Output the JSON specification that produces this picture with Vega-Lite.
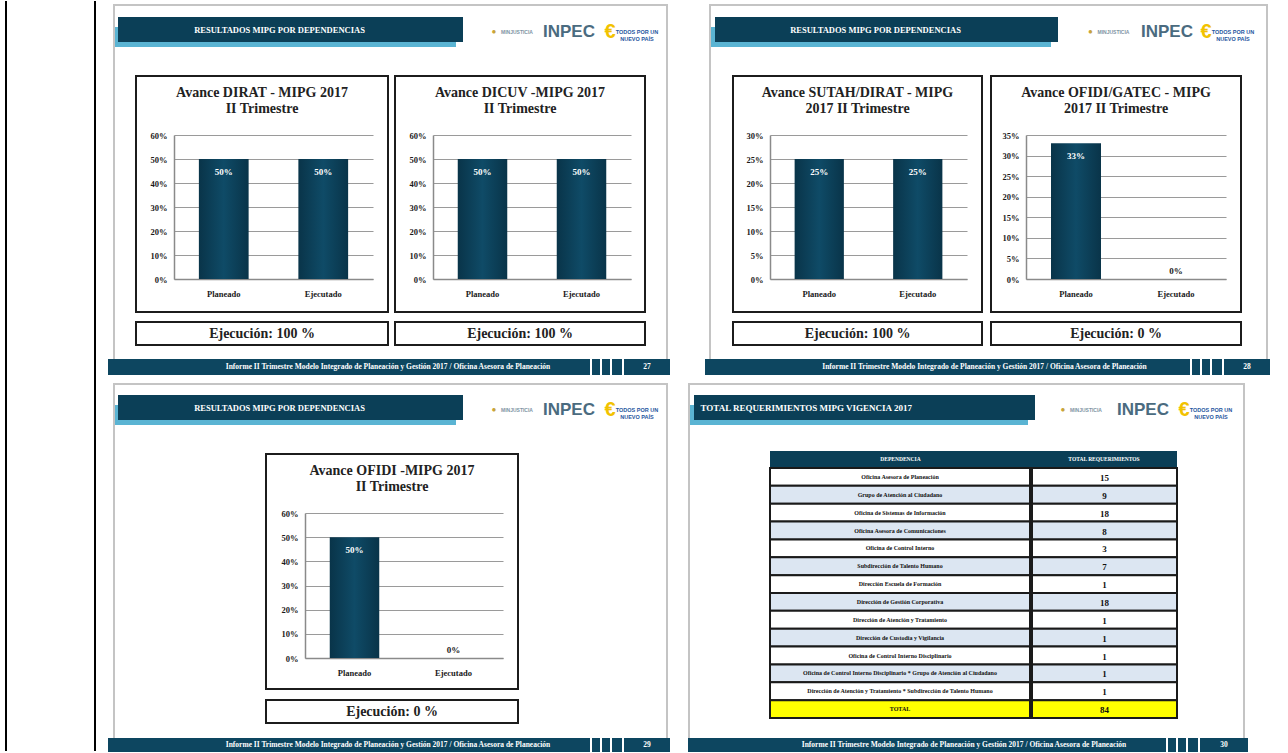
{
  "$schema": "https://vega.github.io/schema/vega-lite/v6.json",
  "padding": {"left": 5, "top": 0, "right": 0, "bottom": 0},
  "background": "white",
  "config": {
    "font": "Liberation Serif",
    "view": {"stroke": null},
    "concat": {"spacing": 0},
    "text": {"font": "Liberation Serif", "fontSize": 0},
    "axis": {"labelFont": "Liberation Serif", "labelFontWeight": "bold", "labelFontSize": 8.5, "labelColor": "#1a1a1a", "ticks": false, "domainColor": "#8a8a8a", "domainWidth": 1.5, "gridColor": "#9a9a9a", "gridWidth": 1.2},
    "title": {"font": "Liberation Serif", "fontWeight": "bold", "fontSize": 14, "color": "#222222", "lineHeight": 16, "anchor": "middle", "frame": "group", "baseline": "bottom", "offset": -40}
  },
  "datasets": {
    "avance": [
      {"grafico": "DIRAT", "tipo": "Planeado", "valor": 0.5},
      {"grafico": "DIRAT", "tipo": "Ejecutado", "valor": 0.5},
      {"grafico": "DICUV", "tipo": "Planeado", "valor": 0.5},
      {"grafico": "DICUV", "tipo": "Ejecutado", "valor": 0.5},
      {"grafico": "SUTAH/DIRAT", "tipo": "Planeado", "valor": 0.25},
      {"grafico": "SUTAH/DIRAT", "tipo": "Ejecutado", "valor": 0.25},
      {"grafico": "OFIDI/GATEC", "tipo": "Planeado", "valor": 0.33},
      {"grafico": "OFIDI/GATEC", "tipo": "Ejecutado", "valor": 0},
      {"grafico": "OFIDI", "tipo": "Planeado", "valor": 0.5},
      {"grafico": "OFIDI", "tipo": "Ejecutado", "valor": 0}
    ],
    "requerimientos": [
      {"orden": 1, "dependencia": "Oficina Asesora de Planeación", "total": 15},
      {"orden": 2, "dependencia": "Grupo de Atención al Ciudadano", "total": 9},
      {"orden": 3, "dependencia": "Oficina de Sistemas de Información", "total": 18},
      {"orden": 4, "dependencia": "Oficina Asesora de Comunicaciones", "total": 8},
      {"orden": 5, "dependencia": "Oficina de Control Interno", "total": 3},
      {"orden": 6, "dependencia": "Subdirección de Talento Humano", "total": 7},
      {"orden": 7, "dependencia": "Dirección Escuela de Formación", "total": 1},
      {"orden": 8, "dependencia": "Dirección de Gestión Corporativa", "total": 18},
      {"orden": 9, "dependencia": "Dirección de Atención y Tratamiento", "total": 1},
      {"orden": 10, "dependencia": "Dirección de Custodia y Vigilancia", "total": 1},
      {"orden": 11, "dependencia": "Oficina de Control Interno Disciplinario", "total": 1},
      {"orden": 12, "dependencia": "Oficina de Control Interno Disciplinario * Grupo de Atención al Ciudadano", "total": 1},
      {"orden": 13, "dependencia": "Dirección de Atención y Tratamiento * Subdirección de Talento Humano", "total": 1},
      {"orden": 14, "dependencia": "TOTAL", "total": 84}
    ]
  },
  "spacing": 12,
  "hconcat": [
    {
      "width": 89, "height": 750,
      "data": {"values": [{"borde": "izquierdo"}, {"borde": "derecho"}]},
      "mark": {"type": "rule", "strokeWidth": 2, "color": "#000000"},
      "encoding": {"x": {"field": "borde", "type": "nominal", "sort": ["izquierdo", "derecho"], "scale": {"type": "point", "padding": 0}, "axis": null}}
    },
    {
      "spacing": 5,
      "vconcat": [
        {
          "spacing": 35,
          "hconcat": [
            {
              "vconcat": [
                {"width": 1, "height": 3, "data": {"values": [{}]}, "mark": "text", "encoding": {"text": {"value": ""}}},
                {"hconcat": [
                  {"width": 5, "height": 2, "data": {"values": [{}]}, "mark": "text", "encoding": {"text": {"value": ""}}},
                  {"width": 555, "height": 2, "data": {"values": [{}]}, "view": {"fill": "#c4c4c4"}, "mark": "text", "encoding": {"text": {"value": ""}}}
                ]},
                {"hconcat": [
                  {"width": 5, "height": 353, "data": {"values": [{}]}, "mark": "text", "encoding": {"text": {"value": ""}}},
                  {"width": 2, "height": 353, "data": {"values": [{}]}, "view": {"fill": "#c4c4c4"}, "mark": "text", "encoding": {"text": {"value": ""}}},
                  {"vconcat": [
                    {"width": 551, "height": 11, "data": {"values": [{}]}, "mark": "text", "encoding": {"text": {"value": ""}}},
                    {"hconcat": [
                      {"vconcat": [
                        {"width": 3, "height": 10, "data": {"values": [{}]}, "mark": "text", "encoding": {"text": {"value": ""}}},
                        {"width": 3, "height": 20, "data": {"values": [{}]}, "view": {"fill": "#5ab4d3"}, "mark": "text", "encoding": {"text": {"value": ""}}}
                      ]},
                      {"vconcat": [
                        {"width": 345, "height": 25, "data": {"values": [{}]}, "view": {"fill": "#0b3f57"}, "mark": {"type": "text", "color": "#ffffff", "fontSize": 8.5, "fontWeight": "bold", "dx": -11}, "encoding": {"text": {"value": "RESULTADOS MIPG POR DEPENDENCIAS"}}},
                        {"width": 338, "height": 5, "data": {"values": [{}]}, "view": {"fill": "#5ab4d3"}, "mark": "text", "encoding": {"text": {"value": ""}}}
                      ]},
                      {"width": 25, "height": 30, "data": {"values": [{}]}, "mark": "text", "encoding": {"text": {"value": ""}}},
                      {"width": 50, "height": 30, "data": {"values": [{}]}, "layer": [
                        {"mark": {"type": "text", "fontSize": 8, "color": "#c8a43a", "dx": -19}, "encoding": {"text": {"value": "●"}}},
                        {"mark": {"type": "text", "font": "Liberation Sans", "fontSize": 5, "fontWeight": "bold", "color": "#8094a3", "dx": 4}, "encoding": {"text": {"value": "MINJUSTICIA"}}}
                      ]},
                      {"width": 62, "height": 30, "data": {"values": [{}]}, "mark": {"type": "text", "font": "Liberation Sans", "fontSize": 17, "fontWeight": "bold", "color": "#4a6b80"}, "encoding": {"text": {"value": "INPEC"}}},
                      {"width": 60, "height": 30, "data": {"values": [{}]}, "layer": [
                        {"mark": {"type": "text", "font": "Liberation Sans", "fontSize": 20, "fontWeight": "bold", "color": "#f2c200", "dx": -20}, "encoding": {"text": {"value": "€"}}},
                        {"mark": {"type": "text", "font": "Liberation Sans", "fontSize": 5.5, "fontWeight": "bold", "color": "#1f55a0", "dx": 7, "lineHeight": 7}, "encoding": {"text": {"value": ["TODOS POR UN", "NUEVO PAÍS"]}}}
                      ]}
                    ]},
                    {"width": 1, "height": 28, "data": {"values": [{}]}, "mark": "text", "encoding": {"text": {"value": ""}}},
                    {"hconcat": [
                      {"width": 20, "height": 236, "data": {"values": [{}]}, "mark": "text", "encoding": {"text": {"value": ""}}},
                      {
                        "width": 252, "height": 236,
                        "view": {"stroke": "#1c1c1c", "strokeWidth": 2},
                        "title": {"text": ["Avance DIRAT - MIPG 2017", "II Trimestre"]},
                        "data": {"name": "avance"},
                        "transform": [{"filter": "datum.grafico === 'DIRAT'"}],
                        "encoding": {
                          "x": {"field": "tipo", "type": "nominal", "sort": ["Planeado", "Ejecutado"], "scale": {"range": [38, 237], "paddingInner": 0.5, "paddingOuter": 0.25}, "axis": {"title": null, "offset": -33, "labelAngle": 0, "labelPadding": 10, "grid": false}},
                          "y": {"field": "valor", "type": "quantitative", "scale": {"domain": [0, 0.6], "range": [203, 59], "nice": false}, "axis": {"title": null, "offset": -38, "values": [0, 0.1, 0.2, 0.3, 0.4, 0.5, 0.6], "format": ".0%", "labelPadding": 7, "grid": true}}
                        },
                        "layer": [
                          {"mark": {"type": "bar", "color": {"gradient": "linear", "x1": 0, "x2": 1, "y1": 0, "y2": 0, "stops": [{"offset": 0, "color": "#093449"}, {"offset": 0.5, "color": "#0f4b67"}, {"offset": 1, "color": "#093449"}]}}},
                          {"transform": [{"filter": "datum.valor > 0"}], "mark": {"type": "text", "baseline": "top", "dy": 9, "color": "#ffffff", "fontSize": 9, "fontWeight": "bold"}, "encoding": {"text": {"field": "valor", "type": "quantitative", "format": ".0%"}}},
                          {"transform": [{"filter": "datum.valor <= 0"}], "mark": {"type": "text", "baseline": "bottom", "dy": -3, "color": "#1a1a1a", "fontSize": 9, "fontWeight": "bold"}, "encoding": {"text": {"field": "valor", "type": "quantitative", "format": ".0%"}}}
                        ]
                      },
                      {"width": 5, "height": 236, "data": {"values": [{}]}, "mark": "text", "encoding": {"text": {"value": ""}}},
                      {
                        "width": 250, "height": 236,
                        "view": {"stroke": "#1c1c1c", "strokeWidth": 2},
                        "title": {"text": ["Avance DICUV -MIPG 2017", "II Trimestre"]},
                        "data": {"name": "avance"},
                        "transform": [{"filter": "datum.grafico === 'DICUV'"}],
                        "encoding": {
                          "x": {"field": "tipo", "type": "nominal", "sort": ["Planeado", "Ejecutado"], "scale": {"range": [38, 236], "paddingInner": 0.5, "paddingOuter": 0.25}, "axis": {"title": null, "offset": -33, "labelAngle": 0, "labelPadding": 10, "grid": false}},
                          "y": {"field": "valor", "type": "quantitative", "scale": {"domain": [0, 0.6], "range": [203, 59], "nice": false}, "axis": {"title": null, "offset": -38, "values": [0, 0.1, 0.2, 0.3, 0.4, 0.5, 0.6], "format": ".0%", "labelPadding": 7, "grid": true}}
                        },
                        "layer": [
                          {"mark": {"type": "bar", "color": {"gradient": "linear", "x1": 0, "x2": 1, "y1": 0, "y2": 0, "stops": [{"offset": 0, "color": "#093449"}, {"offset": 0.5, "color": "#0f4b67"}, {"offset": 1, "color": "#093449"}]}}},
                          {"transform": [{"filter": "datum.valor > 0"}], "mark": {"type": "text", "baseline": "top", "dy": 9, "color": "#ffffff", "fontSize": 9, "fontWeight": "bold"}, "encoding": {"text": {"field": "valor", "type": "quantitative", "format": ".0%"}}},
                          {"transform": [{"filter": "datum.valor <= 0"}], "mark": {"type": "text", "baseline": "bottom", "dy": -3, "color": "#1a1a1a", "fontSize": 9, "fontWeight": "bold"}, "encoding": {"text": {"field": "valor", "type": "quantitative", "format": ".0%"}}}
                        ]
                      }
                    ]},
                    {"width": 1, "height": 8, "data": {"values": [{}]}, "mark": "text", "encoding": {"text": {"value": ""}}},
                    {"hconcat": [
                      {"width": 20, "height": 23, "data": {"values": [{}]}, "mark": "text", "encoding": {"text": {"value": ""}}},
                      {"width": 252, "height": 23, "data": {"values": [{"texto": "Ejecución: 100 %"}]}, "view": {"stroke": "#1c1c1c", "strokeWidth": 2}, "mark": {"type": "text", "fontSize": 14, "fontWeight": "bold", "color": "#222222"}, "encoding": {"text": {"field": "texto"}}},
                      {"width": 5, "height": 23, "data": {"values": [{}]}, "mark": "text", "encoding": {"text": {"value": ""}}},
                      {"width": 250, "height": 23, "data": {"values": [{"texto": "Ejecución: 100 %"}]}, "view": {"stroke": "#1c1c1c", "strokeWidth": 2}, "mark": {"type": "text", "fontSize": 14, "fontWeight": "bold", "color": "#222222"}, "encoding": {"text": {"field": "texto"}}}
                    ]},
                    {"width": 1, "height": 13, "data": {"values": [{}]}, "mark": "text", "encoding": {"text": {"value": ""}}}
                  ]},
                  {"width": 2, "height": 353, "data": {"values": [{}]}, "view": {"fill": "#c4c4c4"}, "mark": "text", "encoding": {"text": {"value": ""}}}
                ]},
                {"spacing": 2, "hconcat": [
                  {"width": 482, "height": 16, "data": {"values": [{}]}, "view": {"fill": "#0d4660"}, "mark": {"type": "text", "color": "#ffffff", "fontSize": 7.5, "fontWeight": "bold", "dx": 39}, "encoding": {"text": {"value": "Informe II Trimestre Modelo Integrado de Planeación  y Gestión 2017 / Oficina Asesora de Planeación"}}},
                  {"width": 8, "height": 16, "data": {"values": [{}]}, "view": {"fill": "#0d4660"}, "mark": "text", "encoding": {"text": {"value": ""}}},
                  {"width": 8, "height": 16, "data": {"values": [{}]}, "view": {"fill": "#0d4660"}, "mark": "text", "encoding": {"text": {"value": ""}}},
                  {"width": 10, "height": 16, "data": {"values": [{}]}, "view": {"fill": "#0d4660"}, "mark": "text", "encoding": {"text": {"value": ""}}},
                  {"width": 46, "height": 16, "data": {"values": [{}]}, "view": {"fill": "#0d4660"}, "mark": {"type": "text", "color": "#ffffff", "fontSize": 7.5, "fontWeight": "bold"}, "encoding": {"text": {"value": "27"}}}
                ]}
              ]
            },
            {
              "vconcat": [
                {"width": 1, "height": 3, "data": {"values": [{}]}, "mark": "text", "encoding": {"text": {"value": ""}}},
                {"hconcat": [
                  {"width": 4, "height": 2, "data": {"values": [{}]}, "mark": "text", "encoding": {"text": {"value": ""}}},
                  {"width": 559, "height": 2, "data": {"values": [{}]}, "view": {"fill": "#c4c4c4"}, "mark": "text", "encoding": {"text": {"value": ""}}}
                ]},
                {"hconcat": [
                  {"width": 4, "height": 353, "data": {"values": [{}]}, "mark": "text", "encoding": {"text": {"value": ""}}},
                  {"width": 2, "height": 353, "data": {"values": [{}]}, "view": {"fill": "#c4c4c4"}, "mark": "text", "encoding": {"text": {"value": ""}}},
                  {"vconcat": [
                    {"width": 555, "height": 11, "data": {"values": [{}]}, "mark": "text", "encoding": {"text": {"value": ""}}},
                    {"hconcat": [
                      {"vconcat": [
                        {"width": 4, "height": 10, "data": {"values": [{}]}, "mark": "text", "encoding": {"text": {"value": ""}}},
                        {"width": 4, "height": 20, "data": {"values": [{}]}, "view": {"fill": "#5ab4d3"}, "mark": "text", "encoding": {"text": {"value": ""}}}
                      ]},
                      {"vconcat": [
                        {"width": 343, "height": 25, "data": {"values": [{}]}, "view": {"fill": "#0b3f57"}, "mark": {"type": "text", "color": "#ffffff", "fontSize": 8.5, "fontWeight": "bold", "dx": -11}, "encoding": {"text": {"value": "RESULTADOS MIPG POR DEPENDENCIAS"}}},
                        {"width": 336, "height": 5, "data": {"values": [{}]}, "view": {"fill": "#5ab4d3"}, "mark": "text", "encoding": {"text": {"value": ""}}}
                      ]},
                      {"width": 24, "height": 30, "data": {"values": [{}]}, "mark": "text", "encoding": {"text": {"value": ""}}},
                      {"width": 55, "height": 30, "data": {"values": [{}]}, "layer": [
                        {"mark": {"type": "text", "fontSize": 8, "color": "#c8a43a", "dx": -19}, "encoding": {"text": {"value": "●"}}},
                        {"mark": {"type": "text", "font": "Liberation Sans", "fontSize": 5, "fontWeight": "bold", "color": "#8094a3", "dx": 4}, "encoding": {"text": {"value": "MINJUSTICIA"}}}
                      ]},
                      {"width": 60, "height": 30, "data": {"values": [{}]}, "mark": {"type": "text", "font": "Liberation Sans", "fontSize": 17, "fontWeight": "bold", "color": "#4a6b80"}, "encoding": {"text": {"value": "INPEC"}}},
                      {"width": 58, "height": 30, "data": {"values": [{}]}, "layer": [
                        {"mark": {"type": "text", "font": "Liberation Sans", "fontSize": 20, "fontWeight": "bold", "color": "#f2c200", "dx": -20}, "encoding": {"text": {"value": "€"}}},
                        {"mark": {"type": "text", "font": "Liberation Sans", "fontSize": 5.5, "fontWeight": "bold", "color": "#1f55a0", "dx": 7, "lineHeight": 7}, "encoding": {"text": {"value": ["TODOS POR UN", "NUEVO PAÍS"]}}}
                      ]}
                    ]},
                    {"width": 1, "height": 28, "data": {"values": [{}]}, "mark": "text", "encoding": {"text": {"value": ""}}},
                    {"hconcat": [
                      {"width": 21, "height": 236, "data": {"values": [{}]}, "mark": "text", "encoding": {"text": {"value": ""}}},
                      {
                        "width": 249, "height": 236,
                        "view": {"stroke": "#1c1c1c", "strokeWidth": 2},
                        "title": {"text": ["Avance SUTAH/DIRAT - MIPG", "2017 II Trimestre"]},
                        "data": {"name": "avance"},
                        "transform": [{"filter": "datum.grafico === 'SUTAH/DIRAT'"}],
                        "encoding": {
                          "x": {"field": "tipo", "type": "nominal", "sort": ["Planeado", "Ejecutado"], "scale": {"range": [37, 234], "paddingInner": 0.5, "paddingOuter": 0.25}, "axis": {"title": null, "offset": -33, "labelAngle": 0, "labelPadding": 10, "grid": false}},
                          "y": {"field": "valor", "type": "quantitative", "scale": {"domain": [0, 0.3], "range": [203, 59], "nice": false}, "axis": {"title": null, "offset": -37, "values": [0, 0.05, 0.1, 0.15, 0.2, 0.25, 0.3], "format": ".0%", "labelPadding": 7, "grid": true}}
                        },
                        "layer": [
                          {"mark": {"type": "bar", "color": {"gradient": "linear", "x1": 0, "x2": 1, "y1": 0, "y2": 0, "stops": [{"offset": 0, "color": "#093449"}, {"offset": 0.5, "color": "#0f4b67"}, {"offset": 1, "color": "#093449"}]}}},
                          {"transform": [{"filter": "datum.valor > 0"}], "mark": {"type": "text", "baseline": "top", "dy": 9, "color": "#ffffff", "fontSize": 9, "fontWeight": "bold"}, "encoding": {"text": {"field": "valor", "type": "quantitative", "format": ".0%"}}},
                          {"transform": [{"filter": "datum.valor <= 0"}], "mark": {"type": "text", "baseline": "bottom", "dy": -3, "color": "#1a1a1a", "fontSize": 9, "fontWeight": "bold"}, "encoding": {"text": {"field": "valor", "type": "quantitative", "format": ".0%"}}}
                        ]
                      },
                      {"width": 7, "height": 236, "data": {"values": [{}]}, "mark": "text", "encoding": {"text": {"value": ""}}},
                      {
                        "width": 250, "height": 236,
                        "view": {"stroke": "#1c1c1c", "strokeWidth": 2},
                        "title": {"text": ["Avance OFIDI/GATEC - MIPG", "2017 II Trimestre"]},
                        "data": {"name": "avance"},
                        "transform": [{"filter": "datum.grafico === 'OFIDI/GATEC'"}],
                        "encoding": {
                          "x": {"field": "tipo", "type": "nominal", "sort": ["Planeado", "Ejecutado"], "scale": {"range": [35, 235], "paddingInner": 0.5, "paddingOuter": 0.25}, "axis": {"title": null, "offset": -33, "labelAngle": 0, "labelPadding": 10, "grid": false}},
                          "y": {"field": "valor", "type": "quantitative", "scale": {"domain": [0, 0.35], "range": [203, 59], "nice": false}, "axis": {"title": null, "offset": -35, "values": [0, 0.05, 0.1, 0.15, 0.2, 0.25, 0.3, 0.35], "format": ".0%", "labelPadding": 7, "grid": true}}
                        },
                        "layer": [
                          {"mark": {"type": "bar", "color": {"gradient": "linear", "x1": 0, "x2": 1, "y1": 0, "y2": 0, "stops": [{"offset": 0, "color": "#093449"}, {"offset": 0.5, "color": "#0f4b67"}, {"offset": 1, "color": "#093449"}]}}},
                          {"transform": [{"filter": "datum.valor > 0"}], "mark": {"type": "text", "baseline": "top", "dy": 9, "color": "#ffffff", "fontSize": 9, "fontWeight": "bold"}, "encoding": {"text": {"field": "valor", "type": "quantitative", "format": ".0%"}}},
                          {"transform": [{"filter": "datum.valor <= 0"}], "mark": {"type": "text", "baseline": "bottom", "dy": -3, "color": "#1a1a1a", "fontSize": 9, "fontWeight": "bold"}, "encoding": {"text": {"field": "valor", "type": "quantitative", "format": ".0%"}}}
                        ]
                      }
                    ]},
                    {"width": 1, "height": 8, "data": {"values": [{}]}, "mark": "text", "encoding": {"text": {"value": ""}}},
                    {"hconcat": [
                      {"width": 21, "height": 23, "data": {"values": [{}]}, "mark": "text", "encoding": {"text": {"value": ""}}},
                      {"width": 249, "height": 23, "data": {"values": [{"texto": "Ejecución: 100 %"}]}, "view": {"stroke": "#1c1c1c", "strokeWidth": 2}, "mark": {"type": "text", "fontSize": 14, "fontWeight": "bold", "color": "#222222"}, "encoding": {"text": {"field": "texto"}}},
                      {"width": 7, "height": 23, "data": {"values": [{}]}, "mark": "text", "encoding": {"text": {"value": ""}}},
                      {"width": 250, "height": 23, "data": {"values": [{"texto": "Ejecución: 0 %"}]}, "view": {"stroke": "#1c1c1c", "strokeWidth": 2}, "mark": {"type": "text", "fontSize": 14, "fontWeight": "bold", "color": "#222222"}, "encoding": {"text": {"field": "texto"}}}
                    ]},
                    {"width": 1, "height": 13, "data": {"values": [{}]}, "mark": "text", "encoding": {"text": {"value": ""}}}
                  ]},
                  {"width": 2, "height": 353, "data": {"values": [{}]}, "view": {"fill": "#c4c4c4"}, "mark": "text", "encoding": {"text": {"value": ""}}}
                ]},
                {"spacing": 2, "hconcat": [
                  {"width": 485, "height": 16, "data": {"values": [{}]}, "view": {"fill": "#0d4660"}, "mark": {"type": "text", "color": "#ffffff", "fontSize": 7.5, "fontWeight": "bold", "dx": 37}, "encoding": {"text": {"value": "Informe II Trimestre Modelo Integrado de Planeación  y Gestión 2017 / Oficina Asesora de Planeación"}}},
                  {"width": 8, "height": 16, "data": {"values": [{}]}, "view": {"fill": "#0d4660"}, "mark": "text", "encoding": {"text": {"value": ""}}},
                  {"width": 8, "height": 16, "data": {"values": [{}]}, "view": {"fill": "#0d4660"}, "mark": "text", "encoding": {"text": {"value": ""}}},
                  {"width": 10, "height": 16, "data": {"values": [{}]}, "view": {"fill": "#0d4660"}, "mark": "text", "encoding": {"text": {"value": ""}}},
                  {"width": 46, "height": 16, "data": {"values": [{}]}, "view": {"fill": "#0d4660"}, "mark": {"type": "text", "color": "#ffffff", "fontSize": 7.5, "fontWeight": "bold"}, "encoding": {"text": {"value": "28"}}}
                ]}
              ]
            }
          ]
        },
        {
          "spacing": 18,
          "hconcat": [
            {
              "vconcat": [
                {"width": 1, "height": 3, "data": {"values": [{}]}, "mark": "text", "encoding": {"text": {"value": ""}}},
                {"hconcat": [
                  {"width": 5, "height": 2, "data": {"values": [{}]}, "mark": "text", "encoding": {"text": {"value": ""}}},
                  {"width": 555, "height": 2, "data": {"values": [{}]}, "view": {"fill": "#c4c4c4"}, "mark": "text", "encoding": {"text": {"value": ""}}}
                ]},
                {"hconcat": [
                  {"width": 5, "height": 353, "data": {"values": [{}]}, "mark": "text", "encoding": {"text": {"value": ""}}},
                  {"width": 2, "height": 353, "data": {"values": [{}]}, "view": {"fill": "#c4c4c4"}, "mark": "text", "encoding": {"text": {"value": ""}}},
                  {"vconcat": [
                    {"width": 551, "height": 10, "data": {"values": [{}]}, "mark": "text", "encoding": {"text": {"value": ""}}},
                    {"hconcat": [
                      {"vconcat": [
                        {"width": 3, "height": 10, "data": {"values": [{}]}, "mark": "text", "encoding": {"text": {"value": ""}}},
                        {"width": 3, "height": 20, "data": {"values": [{}]}, "view": {"fill": "#5ab4d3"}, "mark": "text", "encoding": {"text": {"value": ""}}}
                      ]},
                      {"vconcat": [
                        {"width": 345, "height": 25, "data": {"values": [{}]}, "view": {"fill": "#0b3f57"}, "mark": {"type": "text", "color": "#ffffff", "fontSize": 8.5, "fontWeight": "bold", "dx": -11}, "encoding": {"text": {"value": "RESULTADOS MIPG POR DEPENDENCIAS"}}},
                        {"width": 338, "height": 5, "data": {"values": [{}]}, "view": {"fill": "#5ab4d3"}, "mark": "text", "encoding": {"text": {"value": ""}}}
                      ]},
                      {"width": 25, "height": 30, "data": {"values": [{}]}, "mark": "text", "encoding": {"text": {"value": ""}}},
                      {"width": 50, "height": 30, "data": {"values": [{}]}, "layer": [
                        {"mark": {"type": "text", "fontSize": 8, "color": "#c8a43a", "dx": -19}, "encoding": {"text": {"value": "●"}}},
                        {"mark": {"type": "text", "font": "Liberation Sans", "fontSize": 5, "fontWeight": "bold", "color": "#8094a3", "dx": 4}, "encoding": {"text": {"value": "MINJUSTICIA"}}}
                      ]},
                      {"width": 62, "height": 30, "data": {"values": [{}]}, "mark": {"type": "text", "font": "Liberation Sans", "fontSize": 17, "fontWeight": "bold", "color": "#4a6b80"}, "encoding": {"text": {"value": "INPEC"}}},
                      {"width": 60, "height": 30, "data": {"values": [{}]}, "layer": [
                        {"mark": {"type": "text", "font": "Liberation Sans", "fontSize": 20, "fontWeight": "bold", "color": "#f2c200", "dx": -20}, "encoding": {"text": {"value": "€"}}},
                        {"mark": {"type": "text", "font": "Liberation Sans", "fontSize": 5.5, "fontWeight": "bold", "color": "#1f55a0", "dx": 7, "lineHeight": 7}, "encoding": {"text": {"value": ["TODOS POR UN", "NUEVO PAÍS"]}}}
                      ]}
                    ]},
                    {"width": 1, "height": 28, "data": {"values": [{}]}, "mark": "text", "encoding": {"text": {"value": ""}}},
                    {"hconcat": [
                      {"width": 150, "height": 235, "data": {"values": [{}]}, "mark": "text", "encoding": {"text": {"value": ""}}},
                      {
                        "width": 252, "height": 235,
                        "view": {"stroke": "#1c1c1c", "strokeWidth": 2},
                        "title": {"text": ["Avance OFIDI -MIPG 2017", "II Trimestre"]},
                        "data": {"name": "avance"},
                        "transform": [{"filter": "datum.grafico === 'OFIDI'"}],
                        "encoding": {
                          "x": {"field": "tipo", "type": "nominal", "sort": ["Planeado", "Ejecutado"], "scale": {"range": [39, 237], "paddingInner": 0.5, "paddingOuter": 0.25}, "axis": {"title": null, "offset": -31, "labelAngle": 0, "labelPadding": 10, "grid": false}},
                          "y": {"field": "valor", "type": "quantitative", "scale": {"domain": [0, 0.6], "range": [204, 59], "nice": false}, "axis": {"title": null, "offset": -39, "values": [0, 0.1, 0.2, 0.3, 0.4, 0.5, 0.6], "format": ".0%", "labelPadding": 7, "grid": true}}
                        },
                        "layer": [
                          {"mark": {"type": "bar", "color": {"gradient": "linear", "x1": 0, "x2": 1, "y1": 0, "y2": 0, "stops": [{"offset": 0, "color": "#093449"}, {"offset": 0.5, "color": "#0f4b67"}, {"offset": 1, "color": "#093449"}]}}},
                          {"transform": [{"filter": "datum.valor > 0"}], "mark": {"type": "text", "baseline": "top", "dy": 9, "color": "#ffffff", "fontSize": 9, "fontWeight": "bold"}, "encoding": {"text": {"field": "valor", "type": "quantitative", "format": ".0%"}}},
                          {"transform": [{"filter": "datum.valor <= 0"}], "mark": {"type": "text", "baseline": "bottom", "dy": -3, "color": "#1a1a1a", "fontSize": 9, "fontWeight": "bold"}, "encoding": {"text": {"field": "valor", "type": "quantitative", "format": ".0%"}}}
                        ]
                      }
                    ]},
                    {"width": 1, "height": 9, "data": {"values": [{}]}, "mark": "text", "encoding": {"text": {"value": ""}}},
                    {"hconcat": [
                      {"width": 150, "height": 23, "data": {"values": [{}]}, "mark": "text", "encoding": {"text": {"value": ""}}},
                      {"width": 252, "height": 23, "data": {"values": [{"texto": "Ejecución: 0 %"}]}, "view": {"stroke": "#1c1c1c", "strokeWidth": 2}, "mark": {"type": "text", "fontSize": 14, "fontWeight": "bold", "color": "#222222"}, "encoding": {"text": {"field": "texto"}}}
                    ]},
                    {"width": 1, "height": 14, "data": {"values": [{}]}, "mark": "text", "encoding": {"text": {"value": ""}}}
                  ]},
                  {"width": 2, "height": 353, "data": {"values": [{}]}, "view": {"fill": "#c4c4c4"}, "mark": "text", "encoding": {"text": {"value": ""}}}
                ]},
                {"spacing": 2, "hconcat": [
                  {"width": 482, "height": 14, "data": {"values": [{}]}, "view": {"fill": "#0d4660"}, "mark": {"type": "text", "color": "#ffffff", "fontSize": 7.5, "fontWeight": "bold", "dx": 39}, "encoding": {"text": {"value": "Informe II Trimestre Modelo Integrado de Planeación  y Gestión 2017 / Oficina Asesora de Planeación"}}},
                  {"width": 8, "height": 14, "data": {"values": [{}]}, "view": {"fill": "#0d4660"}, "mark": "text", "encoding": {"text": {"value": ""}}},
                  {"width": 8, "height": 14, "data": {"values": [{}]}, "view": {"fill": "#0d4660"}, "mark": "text", "encoding": {"text": {"value": ""}}},
                  {"width": 10, "height": 14, "data": {"values": [{}]}, "view": {"fill": "#0d4660"}, "mark": "text", "encoding": {"text": {"value": ""}}},
                  {"width": 46, "height": 14, "data": {"values": [{}]}, "view": {"fill": "#0d4660"}, "mark": {"type": "text", "color": "#ffffff", "fontSize": 7.5, "fontWeight": "bold"}, "encoding": {"text": {"value": "29"}}}
                ]}
              ]
            },
            {
              "vconcat": [
                {"width": 1, "height": 3, "data": {"values": [{}]}, "mark": "text", "encoding": {"text": {"value": ""}}},
                {"width": 557, "height": 2, "data": {"values": [{}]}, "view": {"fill": "#c4c4c4"}, "mark": "text", "encoding": {"text": {"value": ""}}},
                {"hconcat": [
                  {"width": 2, "height": 353, "data": {"values": [{}]}, "view": {"fill": "#c4c4c4"}, "mark": "text", "encoding": {"text": {"value": ""}}},
                  {"vconcat": [
                    {"width": 553, "height": 10, "data": {"values": [{}]}, "mark": "text", "encoding": {"text": {"value": ""}}},
                    {"hconcat": [
                      {"vconcat": [
                        {"width": 4, "height": 10, "data": {"values": [{}]}, "mark": "text", "encoding": {"text": {"value": ""}}},
                        {"width": 4, "height": 20, "data": {"values": [{}]}, "view": {"fill": "#5ab4d3"}, "mark": "text", "encoding": {"text": {"value": ""}}}
                      ]},
                      {"vconcat": [
                        {"width": 341, "height": 25, "data": {"values": [{}]}, "view": {"fill": "#0b3f57"}, "mark": {"type": "text", "color": "#ffffff", "fontSize": 9, "fontWeight": "bold", "align": "left", "dx": -164}, "encoding": {"text": {"value": "TOTAL REQUERIMIENTOS MIPG VIGENCIA 2017"}}},
                        {"width": 334, "height": 5, "data": {"values": [{}]}, "view": {"fill": "#5ab4d3"}, "mark": "text", "encoding": {"text": {"value": ""}}}
                      ]},
                      {"width": 17, "height": 30, "data": {"values": [{}]}, "mark": "text", "encoding": {"text": {"value": ""}}},
                      {"width": 60, "height": 30, "data": {"values": [{}]}, "layer": [
                        {"mark": {"type": "text", "fontSize": 8, "color": "#c8a43a", "dx": -19}, "encoding": {"text": {"value": "●"}}},
                        {"mark": {"type": "text", "font": "Liberation Sans", "fontSize": 5, "fontWeight": "bold", "color": "#8094a3", "dx": 4}, "encoding": {"text": {"value": "MINJUSTICIA"}}}
                      ]},
                      {"width": 62, "height": 30, "data": {"values": [{}]}, "mark": {"type": "text", "font": "Liberation Sans", "fontSize": 17, "fontWeight": "bold", "color": "#4a6b80"}, "encoding": {"text": {"value": "INPEC"}}},
                      {"width": 60, "height": 30, "data": {"values": [{}]}, "layer": [
                        {"mark": {"type": "text", "font": "Liberation Sans", "fontSize": 20, "fontWeight": "bold", "color": "#f2c200", "dx": -20}, "encoding": {"text": {"value": "€"}}},
                        {"mark": {"type": "text", "font": "Liberation Sans", "fontSize": 5.5, "fontWeight": "bold", "color": "#1f55a0", "dx": 7, "lineHeight": 7}, "encoding": {"text": {"value": ["TODOS POR UN", "NUEVO PAÍS"]}}}
                      ]}
                    ]},
                    {"width": 1, "height": 26, "data": {"values": [{}]}, "mark": "text", "encoding": {"text": {"value": ""}}},
                    {"hconcat": [
                      {"width": 79, "height": 266, "data": {"values": [{}]}, "mark": "text", "encoding": {"text": {"value": ""}}},
                      {"vconcat": [
                        {"hconcat": [
                          {"width": 261, "height": 16, "data": {"values": [{}]}, "view": {"fill": "#0b3f57"}, "mark": {"type": "text", "color": "#ffffff", "fontSize": 5.5, "fontWeight": "bold"}, "encoding": {"text": {"value": "DEPENDENCIA"}}},
                          {"width": 146, "height": 16, "data": {"values": [{}]}, "view": {"fill": "#0b3f57"}, "mark": {"type": "text", "color": "#ffffff", "fontSize": 5.5, "fontWeight": "bold"}, "encoding": {"text": {"value": "TOTAL REQUERIMIENTOS"}}}
                        ]},
                        {"hconcat": [
                          {
                            "width": 260, "height": 250,
                            "data": {"name": "requerimientos"},
                            "encoding": {"y": {"field": "orden", "type": "ordinal", "scale": {"paddingInner": 0, "paddingOuter": 0}, "axis": null}},
                            "layer": [
                              {"mark": {"type": "rect", "stroke": "#1a1a1a", "strokeWidth": 2}, "encoding": {"color": {"condition": [{"test": "datum.dependencia === 'TOTAL'", "value": "#ffff00"}, {"test": "datum.orden % 2 === 0", "value": "#dce6f2"}], "value": "#ffffff"}}},
                              {"mark": {"type": "text", "fontSize": 6, "fontWeight": "bold", "color": "#111111"}, "encoding": {"text": {"field": "dependencia", "type": "nominal"}}}
                            ]
                          },
                          {
                            "width": 145, "height": 250,
                            "data": {"name": "requerimientos"},
                            "encoding": {"y": {"field": "orden", "type": "ordinal", "scale": {"paddingInner": 0, "paddingOuter": 0}, "axis": null}},
                            "layer": [
                              {"mark": {"type": "rect", "stroke": "#1a1a1a", "strokeWidth": 2}, "encoding": {"color": {"condition": [{"test": "datum.dependencia === 'TOTAL'", "value": "#ffff00"}, {"test": "datum.orden % 2 === 0", "value": "#dce6f2"}], "value": "#ffffff"}}},
                              {"mark": {"type": "text", "fontSize": 9, "fontWeight": "bold", "color": "#111111", "dy": 1}, "encoding": {"text": {"field": "total", "type": "quantitative"}}}
                            ]
                          }
                        ]}
                      ]}
                    ]},
                    {"width": 1, "height": 19, "data": {"values": [{}]}, "mark": "text", "encoding": {"text": {"value": ""}}}
                  ]},
                  {"width": 2, "height": 353, "data": {"values": [{}]}, "view": {"fill": "#c4c4c4"}, "mark": "text", "encoding": {"text": {"value": ""}}}
                ]},
                {"spacing": 2, "hconcat": [
                  {"width": 478, "height": 14, "data": {"values": [{}]}, "view": {"fill": "#0d4660"}, "mark": {"type": "text", "color": "#ffffff", "fontSize": 7.5, "fontWeight": "bold", "dx": 37}, "encoding": {"text": {"value": "Informe II Trimestre Modelo Integrado de Planeación  y Gestión 2017 / Oficina Asesora de Planeación"}}},
                  {"width": 8, "height": 14, "data": {"values": [{}]}, "view": {"fill": "#0d4660"}, "mark": "text", "encoding": {"text": {"value": ""}}},
                  {"width": 8, "height": 14, "data": {"values": [{}]}, "view": {"fill": "#0d4660"}, "mark": "text", "encoding": {"text": {"value": ""}}},
                  {"width": 10, "height": 14, "data": {"values": [{}]}, "view": {"fill": "#0d4660"}, "mark": "text", "encoding": {"text": {"value": ""}}},
                  {"width": 48, "height": 14, "data": {"values": [{}]}, "view": {"fill": "#0d4660"}, "mark": {"type": "text", "color": "#ffffff", "fontSize": 7.5, "fontWeight": "bold"}, "encoding": {"text": {"value": "30"}}}
                ]}
              ]
            }
          ]
        }
      ]
    }
  ]
}
